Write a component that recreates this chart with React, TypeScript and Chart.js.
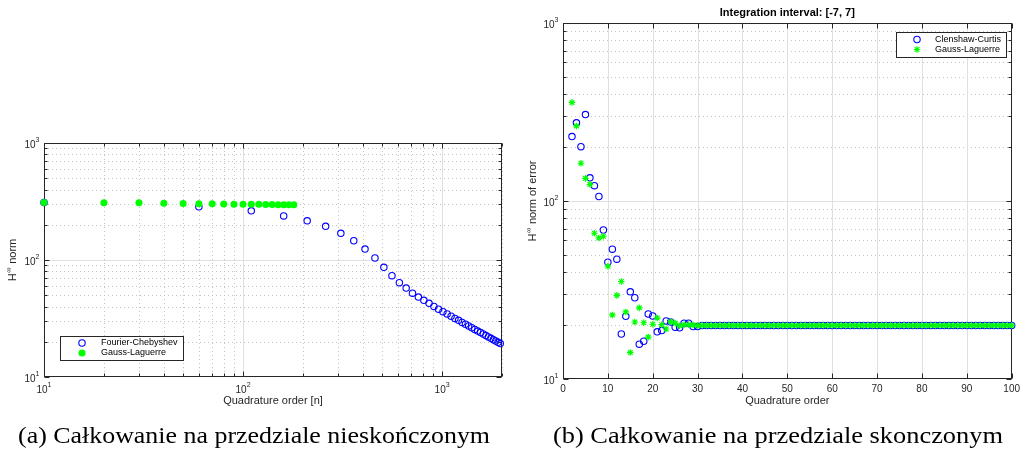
import React, { useEffect, useRef } from 'react';
import { Chart, registerables } from 'chart.js';

Chart.register(...registerables);

// ---------- (a) infinite interval ----------
const fcOrders = [10, 60, 110, 160, 210, 260, 310, 360, 410, 460, 510, 560, 610, 660, 710, 760, 810, 860, 910, 960, 1010, 1060, 1110, 1160, 1210, 1260, 1310, 1360, 1410, 1460, 1510, 1560, 1610, 1660, 1710, 1760, 1810, 1860, 1910, 1960];
const fcNorm = [310, 285, 263, 238, 216, 194, 169, 146, 124, 104, 86.5, 73.4, 64, 57.6, 52.1, 48.2, 45.2, 42.6, 40.1, 38.0, 36.2, 34.6, 33.1, 31.7, 30.5, 29.3, 28.3, 27.3, 26.4, 25.5, 24.7, 24.0, 23.3, 22.6, 22.0, 21.4, 20.8, 20.3, 19.8, 19.3];
const glOrders = [10, 20, 30, 40, 50, 60, 70, 80, 90, 100, 110, 120, 130, 140, 150, 160, 170, 180];
const glNorm = [310, 309, 308, 306, 304, 303, 302, 301, 300, 300, 299, 299, 298, 298, 297, 297, 296, 296];

// ---------- (b) finite interval [-7, 7] ----------
const ccOrders = [2, 3, 4, 5, 6, 7, 8, 9, 10, 11, 12, 13, 14, 15, 16, 17, 18, 19, 20, 21, 22, 23, 24, 25, 26, 27, 28, 29, 30, 31, 32, 33, 34, 35, 36, 37, 38, 39, 40, 41, 42, 43, 44, 45, 46, 47, 48, 49, 50, 51, 52, 53, 54, 55, 56, 57, 58, 59, 60, 61, 62, 63, 64, 65, 66, 67, 68, 69, 70, 71, 72, 73, 74, 75, 76, 77, 78, 79, 80, 81, 82, 83, 84, 85, 86, 87, 88, 89, 90, 91, 92, 93, 94, 95, 96, 97, 98, 99, 100];
const ccError = [230, 275, 202, 306, 135, 122, 106, 68.7, 45.3, 53.6, 47.1, 17.9, 22.5, 30.9, 28.6, 15.7, 16.3, 23.2, 22.6, 18.4, 18.7, 21.2, 20.9, 19.5, 19.4, 20.6, 20.6, 19.7, 19.7,
  20, 20, 20, 20, 20, 20, 20, 20, 20, 20, 20, 20, 20, 20, 20, 20, 20, 20, 20, 20, 20, 20, 20, 20, 20, 20, 20, 20, 20, 20, 20, 20, 20, 20, 20, 20, 20, 20, 20, 20,
  20, 20, 20, 20, 20, 20, 20, 20, 20, 20, 20, 20, 20, 20, 20, 20, 20, 20, 20, 20, 20, 20, 20, 20, 20, 20, 20, 20, 20, 20];
const glOrdersB = [2, 3, 4, 5, 6, 7, 8, 9, 10, 11, 12, 13, 14, 15, 16, 17, 18, 19, 20, 21, 22, 23, 24, 25, 26, 27, 28, 29, 30, 31, 32, 33, 34, 35, 36, 37, 38, 39, 40, 41, 42, 43, 44, 45, 46, 47, 48, 49, 50, 51, 52, 53, 54, 55, 56, 57, 58, 59, 60, 61, 62, 63, 64, 65, 66, 67, 68, 69, 70, 71, 72, 73, 74, 75, 76, 77, 78, 79, 80, 81, 82, 83, 84, 85, 86, 87, 88, 89, 90, 91, 92, 93, 94, 95, 96, 97, 98, 99, 100];
const glErrorB = [358, 264, 163, 134, 124, 65.9, 62, 63.4, 43, 22.9, 29.5, 35.3, 23.8, 14.1, 20.9, 25.1, 20.7, 17.2, 20.3, 22.0, 20.2, 19.1, 21.0, 20.6, 19.9, 20.2, 20.2, 20.1, 20.0,
  20, 20, 20, 20, 20, 20, 20, 20, 20, 20, 20, 20, 20, 20, 20, 20, 20, 20, 20, 20, 20, 20, 20, 20, 20, 20, 20, 20, 20, 20, 20, 20, 20, 20, 20, 20, 20, 20, 20, 20,
  20, 20, 20, 20, 20, 20, 20, 20, 20, 20, 20, 20, 20, 20, 20, 20, 20, 20, 20, 20, 20, 20, 20, 20, 20, 20, 20, 20, 20, 20];

// ---------- ticks ----------
const decadeTicks = [10, 100, 1000];
const decadeExponents: Record<string, string> = { '10': '1', '100': '2', '1000': '3' };
const logMinorA = [20, 30, 40, 50, 60, 70, 80, 90, 200, 300, 400, 500, 600, 700, 800, 900, 2000];
const logMinorY = [20, 30, 40, 50, 60, 70, 80, 90, 200, 300, 400, 500, 600, 700, 800, 900];
const linTicksB = [0, 10, 20, 30, 40, 50, 60, 70, 80, 90, 100];

const captionA = '(a) Całkowanie na przedziale nieskończonym';
const captionB = '(b) Całkowanie na przedziale skonczonym';

const FONT = '"Liberation Sans", Arial, Helvetica, sans-serif';
const TEXT = '#262626';
const BLUE = '#0000ff';
const GREEN = '#00ff00';

type Kind = 'circle' | 'dot' | 'star';
type Cfg = {
  xMajorGrid: number[]; xMinorGrid: number[]; yMajorGrid: number[]; yMinorGrid: number[];
  xMajorTicks: number[]; xMinorTicks: number[]; yMajorTicks: number[]; yMinorTicks: number[];
  xLogLabels: boolean;
  xTitle: string; xTitleY: number; yMain: string; ySup: string; yRest: string; yTitleX: number;
  title?: string; titleY?: number;
  legend: { x: number; y: number; w: number; h: number; mx: number; tx: number; rows: number[] };
  items: { label: string; kind: Kind }[];
};

function drawMarker(ctx: CanvasRenderingContext2D, kind: Kind, x: number, y: number) {
  ctx.save();
  if (kind === 'circle') {
    ctx.strokeStyle = BLUE; ctx.lineWidth = 1.1;
    ctx.beginPath(); ctx.arc(x, y, 3.2, 0, Math.PI * 2); ctx.stroke();
  } else if (kind === 'dot') {
    ctx.fillStyle = GREEN;
    ctx.beginPath(); ctx.arc(x, y, 3.5, 0, Math.PI * 2); ctx.fill();
  } else {
    ctx.strokeStyle = GREEN; ctx.lineWidth = 1.2;
    const r = 3.3, d = r * Math.SQRT1_2;
    ctx.beginPath();
    ctx.moveTo(x - r, y); ctx.lineTo(x + r, y);
    ctx.moveTo(x, y - r); ctx.lineTo(x, y + r);
    ctx.moveTo(x - d, y - d); ctx.lineTo(x + d, y + d);
    ctx.moveTo(x - d, y + d); ctx.lineTo(x + d, y - d);
    ctx.stroke();
  }
  ctx.restore();
}

const BASE_FONT = `10px ${FONT}`;
const EXP_FONT = `7px ${FONT}`;

function makePlugin(cfg: Cfg) {
  return {
    id: 'matlabAxes',
    beforeDatasetsDraw(chart: any) {
      const { ctx, chartArea: a, scales } = chart;
      const sx = scales.x, sy = scales.y;
      const px = (v: number) => Math.round(sx.getPixelForValue(v)) + 0.5;
      const py = (v: number) => Math.round(sy.getPixelForValue(v)) + 0.5;
      ctx.save();
      ctx.lineWidth = 1;
      // minor grid (dotted)
      ctx.strokeStyle = '#c4c4c4';
      ctx.setLineDash([1, 3]);
      ctx.beginPath();
      cfg.xMinorGrid.forEach((v) => { const p = px(v); ctx.moveTo(p, a.top); ctx.lineTo(p, a.bottom); });
      cfg.yMinorGrid.forEach((v) => { const p = py(v); ctx.moveTo(a.left, p); ctx.lineTo(a.right, p); });
      ctx.stroke();
      // major grid (solid)
      ctx.setLineDash([]);
      ctx.strokeStyle = '#e0e0e0';
      ctx.beginPath();
      cfg.xMajorGrid.forEach((v) => { const p = px(v); ctx.moveTo(p, a.top); ctx.lineTo(p, a.bottom); });
      cfg.yMajorGrid.forEach((v) => { const p = py(v); ctx.moveTo(a.left, p); ctx.lineTo(a.right, p); });
      ctx.stroke();
      // box
      ctx.strokeStyle = TEXT;
      ctx.lineWidth = 1;
      const L = Math.round(a.left) + 0.5, R = Math.round(a.right) - 0.5;
      const T = Math.round(a.top) + 0.5, B = Math.round(a.bottom) - 0.5;
      ctx.strokeRect(L, T, R - L, B - T);
      // inner ticks
      ctx.beginPath();
      const xt = (vals: number[], len: number) => vals.forEach((v) => {
        const p = px(v); ctx.moveTo(p, B); ctx.lineTo(p, B - len); ctx.moveTo(p, T); ctx.lineTo(p, T + len);
      });
      const yt = (vals: number[], len: number) => vals.forEach((v) => {
        const p = py(v); ctx.moveTo(L, p); ctx.lineTo(L + len, p); ctx.moveTo(R, p); ctx.lineTo(R - len, p);
      });
      xt(cfg.xMajorTicks, 5); xt(cfg.xMinorTicks, 3);
      yt(cfg.yMajorTicks, 5); yt(cfg.yMinorTicks, 3);
      ctx.stroke();
      ctx.restore();
    },
    afterDatasetsDraw(chart: any) {
      const { ctx } = chart;
      const lg = cfg.legend;
      ctx.save();
      ctx.fillStyle = '#ffffff';
      ctx.fillRect(lg.x, lg.y, lg.w, lg.h);
      ctx.strokeStyle = TEXT; ctx.lineWidth = 1;
      ctx.strokeRect(lg.x, lg.y, lg.w, lg.h);
      ctx.font = `9px ${FONT}`;
      ctx.fillStyle = '#000000';
      ctx.textBaseline = 'middle';
      ctx.textAlign = 'left';
      cfg.items.forEach((it, i) => {
        drawMarker(ctx, it.kind, lg.mx, lg.rows[i]);
        ctx.fillText(it.label, lg.tx, lg.rows[i]);
      });
      ctx.restore();
    },
    afterDraw(chart: any) {
      const { ctx, chartArea: a, scales } = chart;
      const cx = (a.left + a.right) / 2, cy = (a.top + a.bottom) / 2;
      ctx.save();
      ctx.fillStyle = TEXT;
      ctx.textBaseline = 'middle';
      ctx.textAlign = 'left';
      // decade tick labels: "10" with raised exponent
      decadeTicks.forEach((v) => {
        const e = decadeExponents[String(v)];
        ctx.font = BASE_FONT; const wb = ctx.measureText('10').width;
        ctx.font = EXP_FONT; const we = ctx.measureText(e).width;
        const p = scales.y.getPixelForValue(v);
        const xr = a.left - 4.5;
        ctx.font = BASE_FONT; ctx.fillText('10', xr - we - wb, p + 2.5);
        ctx.font = EXP_FONT; ctx.fillText(e, xr - we, p - 2.5);
        if (cfg.xLogLabels) {
          const q = scales.x.getPixelForValue(v);
          const x0 = q - (wb + we) / 2;
          ctx.font = BASE_FONT; ctx.fillText('10', x0, a.bottom + 13.5);
          ctx.font = EXP_FONT; ctx.fillText(e, x0 + wb, a.bottom + 8.5);
        }
      });
      ctx.textAlign = 'center';
      ctx.font = `11px ${FONT}`;
      ctx.fillText(cfg.xTitle, cx, cfg.xTitleY);
      if (cfg.title) {
        ctx.fillStyle = '#000000';
        ctx.font = `bold 11px ${FONT}`;
        ctx.fillText(cfg.title, cx, cfg.titleY);
      }
      // y title with superscript infinity
      ctx.fillStyle = TEXT;
      ctx.translate(cfg.yTitleX, cy);
      ctx.rotate(-Math.PI / 2);
      ctx.textAlign = 'left';
      const big = `11px ${FONT}`, small = `7.5px ${FONT}`;
      ctx.font = big;
      const w1 = ctx.measureText(cfg.yMain).width;
      const w3 = ctx.measureText(cfg.yRest).width;
      ctx.font = small;
      const w2 = ctx.measureText(cfg.ySup).width;
      const x0 = -(w1 + w2 + w3 + 1) / 2;
      ctx.font = big; ctx.fillText(cfg.yMain, x0, 0);
      ctx.font = small; ctx.fillText(cfg.ySup, x0 + w1 + 0.5, -4);
      ctx.font = big; ctx.fillText(cfg.yRest, x0 + w1 + w2 + 1, 0);
      ctx.restore();
    },
  };
}

function logAxis(min: number, max: number, fit: (s: any) => void) {
  return {
    type: 'logarithmic',
    min, max,
    grid: { display: false, drawTicks: false },
    border: { display: false },
    afterBuildTicks: (s: any) => { s.ticks = decadeTicks.map((v) => ({ value: v })); },
    afterFit: fit,
    ticks: { display: false, autoSkip: false },
  };
}

function buildLeft(): any {
  return {
    type: 'scatter',
    data: {
      datasets: [
        { label: 'Gauss-Laguerre', data: glOrders.map((x, i) => ({ x, y: glNorm[i] })), pointStyle: 'circle', pointRadius: 3.5, backgroundColor: GREEN, borderColor: GREEN, borderWidth: 0, order: 0, clip: false },
        { label: 'Fourier-Chebyshev', data: fcOrders.map((x, i) => ({ x, y: fcNorm[i] })), pointStyle: 'circle', pointRadius: 3.2, backgroundColor: 'rgba(0,0,0,0)', borderColor: BLUE, borderWidth: 1.1, order: 1, clip: false },
      ],
    },
    options: {
      responsive: false, animation: false, events: [],
      layout: { padding: { left: 0, right: 13, top: 13, bottom: 0 } },
      plugins: { legend: { display: false }, tooltip: { enabled: false }, title: { display: false } },
      scales: {
        x: logAxis(10, 2000, (s: any) => { s.height = 33; }),
        y: logAxis(10, 1000, (s: any) => { s.width = 44; }),
      },
    },
    plugins: [makePlugin({
      xMajorGrid: [100, 1000], xMinorGrid: logMinorA, yMajorGrid: [100], yMinorGrid: logMinorY,
      xMajorTicks: decadeTicks, xMinorTicks: logMinorA, yMajorTicks: decadeTicks, yMinorTicks: logMinorY,
      xLogLabels: true,
      xTitle: 'Quadrature order [n]', xTitleY: 271, yMain: 'H', ySup: '\u221E', yRest: ' norm', yTitleX: 13,
      legend: { x: 60.5, y: 206.5, w: 123, h: 24, mx: 82, tx: 101, rows: [213, 223] },
      items: [{ label: 'Fourier-Chebyshev', kind: 'circle' }, { label: 'Gauss-Laguerre', kind: 'dot' }],
    })],
  };
}

function buildRight(): any {
  return {
    type: 'scatter',
    data: {
      datasets: [
        { label: 'Gauss-Laguerre', data: glOrdersB.map((x, i) => ({ x, y: glErrorB[i] })), pointStyle: 'star', pointRadius: 3.3, backgroundColor: GREEN, borderColor: GREEN, borderWidth: 1.2, order: 0, clip: false },
        { label: 'Clenshaw-Curtis', data: ccOrders.map((x, i) => ({ x, y: ccError[i] })), pointStyle: 'circle', pointRadius: 3.2, backgroundColor: 'rgba(0,0,0,0)', borderColor: BLUE, borderWidth: 1.1, order: 1, clip: false },
      ],
    },
    options: {
      responsive: false, animation: false, events: [],
      layout: { padding: { left: 0, right: 7, top: 23, bottom: 0 } },
      plugins: { legend: { display: false }, tooltip: { enabled: false }, title: { display: false } },
      scales: {
        x: {
          type: 'linear', min: 0, max: 100,
          grid: { display: false, drawTicks: false },
          border: { display: false },
          afterBuildTicks: (s: any) => { s.ticks = linTicksB.map((v) => ({ value: v })); },
          afterFit: (s: any) => { s.height = 31; },
          ticks: { font: { family: FONT, size: 10 }, color: TEXT, padding: 4, maxRotation: 0, minRotation: 0, autoSkip: false },
        },
        y: logAxis(10, 1000, (s: any) => { s.width = 43; }),
      },
    },
    plugins: [makePlugin({
      xMajorGrid: [10, 20, 30, 40, 50, 60, 70, 80, 90], xMinorGrid: [], yMajorGrid: [100], yMinorGrid: logMinorY,
      xMajorTicks: linTicksB, xMinorTicks: [], yMajorTicks: decadeTicks, yMinorTicks: logMinorY,
      xLogLabels: false,
      xTitle: 'Quadrature order', xTitleY: 401, yMain: 'H', ySup: '\u221E', yRest: ' norm of error', yTitleX: 13,
      title: 'Integration interval: [-7, 7]', titleY: 13,
      legend: { x: 376.5, y: 32.5, w: 110, h: 25, mx: 397, tx: 415, rows: [39.5, 49.5] },
      items: [{ label: 'Clenshaw-Curtis', kind: 'circle' }, { label: 'Gauss-Laguerre', kind: 'star' }],
    })],
  };
}

function ChartCanvas({ width, height, left, top, build }: { width: number; height: number; left: number; top: number; build: () => any }) {
  const ref = useRef<HTMLCanvasElement>(null);
  useEffect(() => {
    const chart = new Chart(ref.current as HTMLCanvasElement, build());
    return () => chart.destroy();
  }, [build]);
  return <canvas ref={ref} width={width} height={height} style={{ position: 'absolute', left, top, width, height }} />;
}

export default function App() {
  return (
    <div style={{ position: 'absolute', left: 0, top: 0, width: 1024, height: 452, background: '#ffffff', overflow: 'hidden' }}>
      <ChartCanvas width={515} height={280} left={0} top={130} build={buildLeft} />
      <ChartCanvas width={504} height={410} left={520} top={0} build={buildRight} />
      <svg width={1024} height={452} style={{ position: 'absolute', left: 0, top: 0, pointerEvents: 'none' }}>
        <text x={18} y={443} fontFamily='"Liberation Serif", "DejaVu Serif", serif' fontSize={22.5} fill="#000" textLength={472} lengthAdjust="spacingAndGlyphs">{captionA}</text>
        <text x={553} y={443} fontFamily='"Liberation Serif", "DejaVu Serif", serif' fontSize={22.5} fill="#000" textLength={450} lengthAdjust="spacingAndGlyphs">{captionB}</text>
      </svg>
    </div>
  );
}
